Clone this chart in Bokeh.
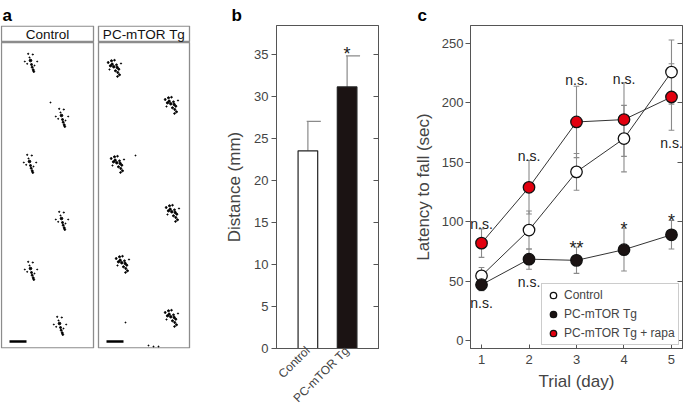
import math
from bokeh.plotting import figure
from bokeh.layouts import row
from bokeh.models import Range1d, FixedTicker, LinearAxis, Title, Legend, LegendItem
from bokeh.core.properties import value
from bokeh.embed import file_html
from bokeh.resources import INLINE

FONT = "Liberation Sans"

# ---------------- Panel a (footprint images) ----------------
a_headers = ["Control", "PC-mTOR Tg"]
ctrl_print_x = [30, 61, 29, 61, 30, 59]
ctrl_print_y = [62, 117, 163, 220, 270, 325]
tg_print_x = [115, 172, 118, 173, 123, 172]
tg_print_y = [67, 104, 163, 212, 263, 317]
ctrl_dot_dx = [-2.3, 2.3, -5.7, 6.7, 0, 1, 1.7, 2.7, 3.3, -3.3, -1, 4]
ctrl_dot_dy = [-8.7, -8, -1, -1, -2, 2, 4.7, 7.3, 9, 1.3, -5, 3]
ctrl_dot_s = [1.2, 1.2, 1.0, 1.0, 2.6, 2.0, 2.0, 1.9, 1.8, 1.0, 1.1, 1.0]
tg_dot_dx = [-7.3, -4, -1, -5, -1.7, 1.7, 3.3, 0, 2.3, 4, -3.3, 1, 5.5, -6, 2]
tg_dot_dy = [-5, -6.7, -7.3, -1.7, -0.7, 0, 1.7, 3.3, 5, 7.3, -3.3, -2.7, -4, 2, 9]
tg_dot_s = [1.8, 2.0, 1.6, 2.3, 2.4, 2.3, 2.0, 2.0, 1.9, 1.9, 2.2, 1.8, 1.2, 1.2, 1.6]
stray_x = [50, 135, 125, 148, 153, 158]
stray_y = [102, 155, 322, 345, 346, 346]

# ---------------- Panel b (bar chart) ----------------
b_groups = ["Control", "PC-mTOR Tg"]
b_means = [23.5, 31.1]
b_errs = [3.5, 3.7]
b_fill = ["white", "#1b1313"]
b_ticks = [0, 5, 10, 15, 20, 25, 30, 35]
b_sig = ["", "*"]

# ---------------- Panel c (line chart) ----------------
trials = [1, 2, 3, 4, 5]
ctrl_mean = [54.5, 93, 142, 170, 226]
ctrl_err = [7, 16, 15.5, 28, 27]
tg_mean = [47, 68.5, 67.5, 76.5, 89]
tg_err = [5, 8.5, 11, 18, 12]
rapa_mean = [82, 129, 184, 186, 205]
rapa_err = [12, 22.5, 30, 31, 28]
c_yticks = [0, 50, 100, 150, 200, 250]
ns_x = [1, 1, 2, 2, 3, 4, 5]
ns_y = [98.5, 32, 155.5, 49, 219, 220.5, 166]
star_x = [3, 4, 5]
star_y = [77.5, 93.5, 100.5]
star_t = ["**", "*", "*"]

TOP, BOTTOM = 25, 72   # shared frame borders (frames of a row are aligned)


def panel_title(p, letter, offset):
    p.add_layout(Title(text=letter, align="left", offset=offset, standoff=2, text_font=FONT,
                       text_font_size="17px", text_font_style="bold", text_color="black"), "above")


# ======== Panel a ========
pa = figure(width=200, height=420, x_range=Range1d(0, 200), y_range=Range1d(420 - BOTTOM, TOP),
            min_border_left=0, min_border_right=0, min_border_top=TOP, min_border_bottom=BOTTOM,
            toolbar_location=None, output_backend="svg",
            x_axis_location=None, y_axis_location=None, outline_line_color=None)
pa.grid.grid_line_color = None
pa.quad(left=[1, 1, 98, 98], right=[93, 93, 189, 189], top=[25.6, 42, 25.6, 42],
        bottom=[41, 347.4, 41, 347.4], fill_color=None, line_color="#8c8c8c", line_width=1.3)
pa.text(x=[47, 143.5], y=[33.5, 33.5], text=a_headers, text_align="center", text_baseline="middle",
        text_font=value(FONT), text_font_size="13.5px", text_color="#111111")
pa.segment(x0=[9, 106], x1=[26, 123], y0=[341, 341], y1=[341, 341], line_width=2.5, line_color="black")
fx, fy, fs = [], [], []
for cx, cy in zip(ctrl_print_x, ctrl_print_y):
    for dx, dy, s in zip(ctrl_dot_dx, ctrl_dot_dy, ctrl_dot_s):
        fx.append(cx + dx); fy.append(cy + dy); fs.append(s)
for cx, cy in zip(tg_print_x, tg_print_y):
    for dx, dy, s in zip(tg_dot_dx, tg_dot_dy, tg_dot_s):
        fx.append(cx + dx); fy.append(cy + dy); fs.append(s)
fx += stray_x; fy += stray_y; fs += [1.0] * len(stray_x)
pa.scatter(x=fx, y=fy, size=fs, marker="circle", color="black")
panel_title(pa, "a", 2)

# ======== Panel b ========
pb = figure(width=190, height=420, x_range=Range1d(-0.3, 2.3), y_range=Range1d(0, 38.4),
            min_border_left=76, min_border_right=12, min_border_top=TOP, min_border_bottom=BOTTOM,
            toolbar_location=None, output_backend="svg", outline_line_color="#555555")
pb.grid.grid_line_color = None
bx = [i + 0.5 for i in range(len(b_groups))]
tops = [m + e for m, e in zip(b_means, b_errs)]
pb.segment(x0=bx, x1=bx, y0=b_means, y1=tops, line_color="#8a8a8a", line_width=1.2)
pb.segment(x0=[x - 0.03 for x in bx], x1=[x + 0.33 for x in bx], y0=tops, y1=tops,
           line_color="#8a8a8a", line_width=1.2)
pb.vbar(x=bx, top=b_means, bottom=0, width=0.5, fill_color=b_fill, line_color="#222222", line_width=1.2)
pb.text(x=bx, y=[t + 0.25 for t in tops], text=b_sig, text_align="center", text_baseline="alphabetic",
        text_font=value(FONT), text_font_size="18px", text_color="#222222")
yb = pb.yaxis[0]
yb.ticker = FixedTicker(ticks=b_ticks)
yb.major_tick_out = 5
yb.major_tick_in = 0
yb.minor_tick_line_color = None
yb.major_label_text_font = FONT
yb.major_label_text_font_size = "13px"
yb.major_label_standoff = 3
yb.axis_label = "Distance (mm)"
yb.axis_label_text_font = FONT
yb.axis_label_text_font_size = "17px"
yb.axis_label_text_font_style = "normal"
yb.axis_label_standoff = 7
yb.axis_line_color = "#555555"
yb.major_tick_line_color = "#555555"
xb = pb.xaxis[0]
xb.ticker = FixedTicker(ticks=bx)
xb.major_label_overrides = {x: g for x, g in zip(bx, b_groups)}
xb.major_label_orientation = math.pi / 4
xb.major_tick_line_color = None
xb.minor_tick_line_color = None
xb.major_tick_out = 0
xb.major_tick_in = 0
xb.major_label_standoff = 0
xb.major_label_text_font = FONT
xb.major_label_text_font_size = "12px"
xb.axis_line_color = "#555555"
rb = LinearAxis(ticker=FixedTicker(ticks=b_ticks), major_tick_in=5, major_tick_out=0,
                minor_tick_line_color=None, major_label_overrides={t: "" for t in b_ticks},
                major_label_standoff=0, axis_line_color="#555555", major_tick_line_color="#555555")
pb.add_layout(rb, "right")
panel_title(pb, "b", -45)

# ======== Panel c ========
pc = figure(width=295, height=420, x_range=Range1d(0.768, 5.232), y_range=Range1d(-6.7, 265.2),
            min_border_left=80, min_border_right=3, min_border_top=TOP, min_border_bottom=BOTTOM,
            toolbar_location=None, output_backend="svg", outline_line_color="#555555")
pc.grid.grid_line_color = None
series = [(ctrl_mean, ctrl_err, "white"), (tg_mean, tg_err, "#1b1313"), (rapa_mean, rapa_err, "#e2000f")]
cap = 0.06
for m, e, col in series:
    lo = [a - b for a, b in zip(m, e)]
    hi = [a + b for a, b in zip(m, e)]
    pc.segment(x0=trials, x1=trials, y0=lo, y1=hi, line_color="#8a8a8a", line_width=1.1)
    pc.segment(x0=[t - cap for t in trials], x1=[t + cap for t in trials], y0=lo, y1=lo,
               line_color="#8a8a8a", line_width=1.1)
    pc.segment(x0=[t - cap for t in trials], x1=[t + cap for t in trials], y0=hi, y1=hi,
               line_color="#8a8a8a", line_width=1.1)
renders = []
for m, e, col in series:
    pc.line(x=trials, y=m, line_color="#333333", line_width=1)
for m, e, col in series:
    r = pc.scatter(x=trials, y=m, marker="circle", size=11.5, fill_color=col,
                   line_color="#111111", line_width=1.3)
    renders.append(r)
pc.text(x=ns_x, y=ns_y, text=["n.s."] * len(ns_x), text_align="center", text_baseline="alphabetic",
        text_font=value(FONT), text_font_size="14px", text_color="#222222")
pc.text(x=star_x, y=star_y, text=star_t, text_align="center", text_baseline="alphabetic",
        text_font=value(FONT), text_font_size="18px", text_color="#222222")
xc = pc.xaxis[0]
xc.ticker = FixedTicker(ticks=trials)
xc.major_tick_in = 4
xc.major_tick_out = 0
xc.minor_tick_line_color = None
xc.major_label_standoff = 6
xc.major_label_text_font = FONT
xc.major_label_text_font_size = "13px"
xc.axis_label = "Trial (day)"
xc.axis_label_text_font = FONT
xc.axis_label_text_font_size = "17px"
xc.axis_label_text_font_style = "normal"
xc.axis_label_standoff = 5
xc.axis_line_color = "#555555"
xc.major_tick_line_color = "#555555"
yc = pc.yaxis[0]
yc.ticker = FixedTicker(ticks=c_yticks)
yc.major_tick_out = 5
yc.major_tick_in = 0
yc.minor_tick_line_color = None
yc.major_label_standoff = 2
yc.major_label_text_font = FONT
yc.major_label_text_font_size = "13px"
yc.axis_label = "Latency to fall (sec)"
yc.axis_label_text_font = FONT
yc.axis_label_text_font_size = "17px"
yc.axis_label_text_font_style = "normal"
yc.axis_label_standoff = 6
yc.axis_line_color = "#555555"
yc.major_tick_line_color = "#555555"
rc = LinearAxis(ticker=FixedTicker(ticks=c_yticks), major_tick_in=5, major_tick_out=0,
                minor_tick_line_color=None, major_label_overrides={t: "" for t in c_yticks},
                major_label_standoff=0, axis_line_color="#555555", major_tick_line_color="#555555")
pc.add_layout(rc, "right")
legend = Legend(items=[LegendItem(label=l, renderers=[r]) for l, r in
                       zip(["Control", "PC-mTOR Tg", "PC-mTOR Tg + rapa"], renders)],
                location=(71, 3), label_text_font=FONT, label_text_font_size="12px",
                border_line_color="#999999", border_line_width=1.2, margin=0,
                background_fill_color="white", background_fill_alpha=1.0)
try:
    legend.glyph_width = 38
    legend.glyph_height = 38
    legend.label_height = 16
    legend.spacing = -19
    legend.padding = -8
    legend.label_standoff = -6
except Exception:
    legend.glyph_width = 16
    legend.glyph_height = 16
    legend.label_height = 16
    legend.spacing = 3
    legend.padding = 3
    legend.label_standoff = 3
pc.add_layout(legend)
panel_title(pc, "c", -53)

layout = row(pa, pb, pc, spacing=0)
open("out.html", "w").write(file_html(layout, INLINE))
